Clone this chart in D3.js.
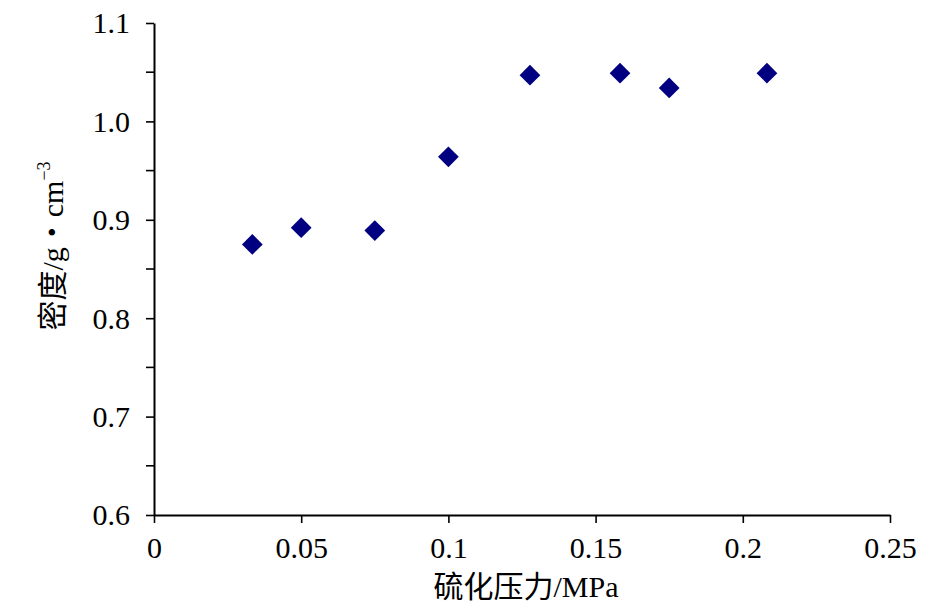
<!DOCTYPE html>
<html><head><meta charset="utf-8">
<script src="https://cdn.jsdelivr.net/npm/d3@7"></script>
<style>
html,body{margin:0;padding:0;background:#fff;}
svg text{font-family:"Liberation Serif","Times New Roman","Noto Sans CJK SC",serif;fill:#000;}
</style></head>
<body>
<svg id="c" width="945" height="610"></svg>
<script>
const pressure = [0.0334, 0.05, 0.075, 0.1, 0.1277, 0.1583, 0.175, 0.2082];
const density  = [0.875, 0.892, 0.889, 0.964, 1.047, 1.049, 1.034, 1.049];
const xTicks = [0, 0.05, 0.1, 0.15, 0.2, 0.25];
const xTickLabels = ["0", "0.05", "0.1", "0.15", "0.2", "0.25"];
const yTicks = [0.6, 0.7, 0.8, 0.9, 1.0, 1.1];
const yTickLabels = ["0.6", "0.7", "0.8", "0.9", "1.0", "1.1"];
const yMinorTicks = [0.65, 0.75, 0.85, 0.95, 1.05];
const xTitle = "硫化压力/MPa";

const svg = d3.select("#c");
const x = d3.scaleLinear().domain([0, 0.25]).range([154, 890]);
const y = d3.scaleLinear().domain([0.6, 1.1]).range([515, 23]);

// y axis
const yAxis = svg.append("g").attr("transform", "translate(154,0)")
  .call(d3.axisLeft(y).tickValues(yTicks).tickSize(8).tickSizeOuter(0)
    .tickFormat((d, i) => yTickLabels[i]));
yAxis.append("g").selectAll("line").data(yMinorTicks).join("line")
  .attr("x1", -8).attr("x2", 0).attr("y1", d => y(d)).attr("y2", d => y(d))
  .attr("stroke", "#000").attr("stroke-width", 1.6);
// x axis
const xAxis = svg.append("g").attr("transform", "translate(0,515)")
  .call(d3.axisBottom(x).tickValues(xTicks).tickSize(8).tickSizeOuter(0)
    .tickFormat((d, i) => xTickLabels[i]));

[yAxis, xAxis].forEach(g => {
  g.select(".domain").attr("stroke", "#000").attr("stroke-width", 2);
  g.selectAll(".tick line").attr("stroke", "#000").attr("stroke-width", 1.6);
  g.selectAll("text").attr("font-size", 30);
});
yAxis.selectAll(".tick text").attr("x", -24).attr("dy", "0.33em");
xAxis.selectAll(".tick text").attr("y", 43).attr("dy", 0);

// points
const diamond = d3.symbol().type(d3.symbolSquare).size(215);
svg.append("g").selectAll("path").data(pressure).join("path")
  .attr("d", diamond)
  .attr("transform", (d, i) => `translate(${x(d)},${y(density[i])}) rotate(45)`)
  .attr("fill", "#000080");

// axis titles
svg.append("text").attr("x", 526).attr("y", 597).attr("text-anchor", "middle")
  .attr("font-size", 30).text(xTitle);

const yt = svg.append("text").attr("transform", "translate(63,246) rotate(-90)")
  .attr("text-anchor", "middle").attr("font-size", 30);
yt.append("tspan").text("密度/g・cm");
yt.append("tspan").attr("font-size", 18).attr("dy", -13).text("−3");
</script>
</body></html>
